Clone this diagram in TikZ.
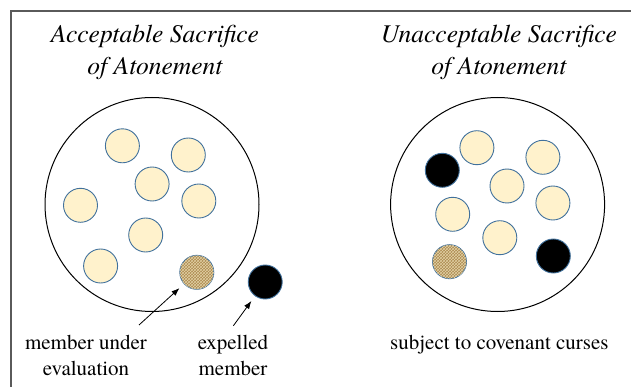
\documentclass[tikz,border=0pt]{standalone}
\usepackage{fontspec}
\setmainfont{texgyretermes}[Extension=.otf, UprightFont=*-regular, ItalicFont=*-italic, BoldFont=*-bold, BoldItalicFont=*-bolditalic]
\usetikzlibrary{arrows.meta,patterns}
\definecolor{cream}{RGB}{255,242,204}
\definecolor{rimblue}{RGB}{65,113,156}
\definecolor{burlap}{RGB}{172,138,80}
\definecolor{thread}{RGB}{226,208,164}
\definecolor{framegray}{RGB}{90,90,90}
\tikzset{
  member/.style={circle, minimum size=34pt, inner sep=0pt, draw=rimblue, line width=0.9pt, fill=cream},
  trial/.style={member, fill=burlap, postaction={pattern=crosshatch, pattern color=thread}},
  outcast/.style={member, fill=black},
  congregation/.style={circle, minimum size=214pt, inner sep=0pt, draw=black, line width=1pt},
  heading/.style={anchor=base, inner sep=0pt, font=\fontsize{25.5}{31}\selectfont\itshape},
  caption/.style={anchor=base, inner sep=0pt, font=\fontsize{21}{26}\selectfont},
  pointer/.style={-{Latex[length=8pt,width=6pt]}, line width=0.8pt, shorten >=6pt}
}
\begin{document}
\begin{tikzpicture}[x=1pt,y=-1pt]
\useasboundingbox (0,0) rectangle (631,387);
\begin{scope}
\clip (0,0) rectangle (631,387);
\draw[framegray, line width=2pt] (11,11) rectangle (660,420);
\end{scope}

% headings
\node[heading] (accA) at (155,43) {Acceptable Sacrifice};
\node[heading] (accB) at (155,75) {of Atonement};
\node[heading] (unaA) at (499,43) {Unacceptable Sacrifice};
\node[heading] (unaB) at (499,75) {of Atonement};

% acceptable congregation
\node[congregation] (left) at (152,204.5) {};
\node[member] (l1) at (122.4,145.8) {};
\node[member] (l2) at (188.3,155) {};
\node[member] (l3) at (152.1,184) {};
\node[member] (l4) at (80.5,205.3) {};
\node[member] (l5) at (198.8,201) {};
\node[member] (l6) at (145.7,235) {};
\node[member] (l7) at (100.6,266) {};
\node[trial] (evalM) at (196.8,272.3) {};
\node[outcast] (expM) at (265.2,282) {};

% unacceptable congregation
\node[congregation] (right) at (497.6,204.5) {};
\node[outcast] (r1) at (442.3,170.3) {};
\node[member] (r2) at (476.9,147.7) {};
\node[member] (r3) at (542.9,157.3) {};
\node[member] (r4) at (507,186) {};
\node[member] (r5) at (552.9,203) {};
\node[member] (r6) at (452.7,214.3) {};
\node[member] (r7) at (499.8,237.7) {};
\node[trial] (r8) at (449.5,261.7) {};
\node[outcast] (r9) at (553.3,256) {};

% captions
\node[caption] (evalA) at (86,349) {member under};
\node[caption] (evalB) at (86,375) {evaluation};
\node[caption] (expA) at (233,349) {expelled};
\node[caption] (expB) at (233,375) {member};
\node[caption] (curse) at (499.4,349) {subject to covenant curses};

% pointers
\coordinate (evalTail) at (139,325);
\coordinate (expTail) at (233.4,325.7);
\draw[pointer] (evalTail) -- (evalM);
\draw[pointer] (expTail) -- (expM);
\end{tikzpicture}
\end{document}
